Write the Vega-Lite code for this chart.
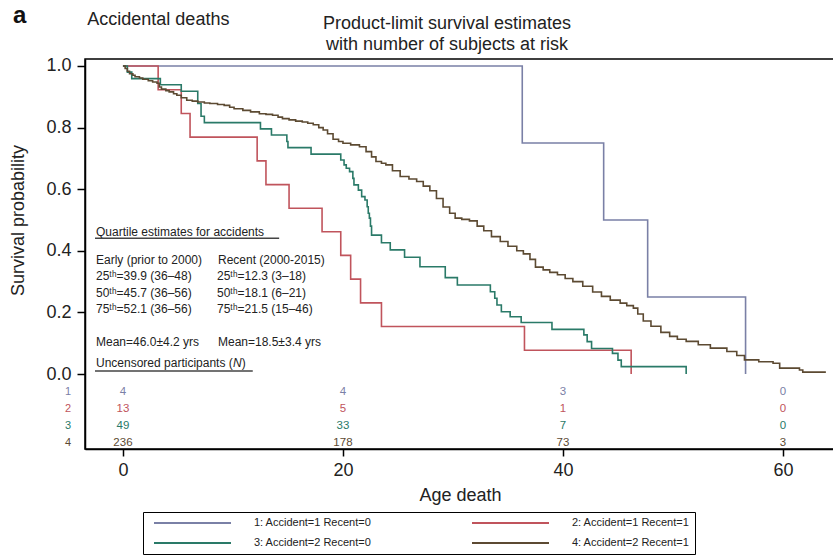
{
  "$schema": "https://vega.github.io/schema/vega-lite/v6.json",
  "width": 750,
  "height": 390,
  "autosize": "none",
  "padding": {"left": 85, "top": 59, "right": 0, "bottom": 106},
  "background": "white",
  "config": {
    "font": "Liberation Sans",
    "view": {"stroke": "#000", "strokeWidth": 1.5},
    "axis": {
      "domainColor": "#000", "domainWidth": 1.5, "tickColor": "#000", "tickWidth": 1.5,
      "labelFont": "Liberation Sans", "labelFontSize": 18, "labelColor": "#222",
      "titleFont": "Liberation Sans", "titleFontSize": 18, "titleFontWeight": "normal", "titleColor": "#222",
      "grid": false
    },
    "text": {"font": "Liberation Sans"}
  },
  "datasets": {
    "curves": [
      {"group": "1: Accident=1 Recent=0", "age": 0, "surv": 1.0},
      {"group": "1: Accident=1 Recent=0", "age": 36.3, "surv": 0.75},
      {"group": "1: Accident=1 Recent=0", "age": 43.7, "surv": 0.5},
      {"group": "1: Accident=1 Recent=0", "age": 47.7, "surv": 0.25},
      {"group": "1: Accident=1 Recent=0", "age": 56.6, "surv": 0.0},
      {"group": "2: Accident=1 Recent=1", "age": 0, "surv": 1.0},
      {"group": "2: Accident=1 Recent=1", "age": 3.2, "surv": 0.923},
      {"group": "2: Accident=1 Recent=1", "age": 5.3, "surv": 0.846},
      {"group": "2: Accident=1 Recent=1", "age": 6.1, "surv": 0.769},
      {"group": "2: Accident=1 Recent=1", "age": 12.2, "surv": 0.692},
      {"group": "2: Accident=1 Recent=1", "age": 13.0, "surv": 0.615},
      {"group": "2: Accident=1 Recent=1", "age": 15.1, "surv": 0.538},
      {"group": "2: Accident=1 Recent=1", "age": 18.1, "surv": 0.462},
      {"group": "2: Accident=1 Recent=1", "age": 19.8, "surv": 0.385},
      {"group": "2: Accident=1 Recent=1", "age": 20.7, "surv": 0.308},
      {"group": "2: Accident=1 Recent=1", "age": 21.6, "surv": 0.231},
      {"group": "2: Accident=1 Recent=1", "age": 23.5, "surv": 0.154},
      {"group": "2: Accident=1 Recent=1", "age": 36.5, "surv": 0.077},
      {"group": "2: Accident=1 Recent=1", "age": 46.2, "surv": 0.0},
      {"group": "3: Accident=2 Recent=0", "age": 0, "surv": 1.0},
      {"group": "3: Accident=2 Recent=0", "age": 0.4, "surv": 0.980},
      {"group": "3: Accident=2 Recent=0", "age": 0.8, "surv": 0.959},
      {"group": "3: Accident=2 Recent=0", "age": 3.4, "surv": 0.939},
      {"group": "3: Accident=2 Recent=0", "age": 5.3, "surv": 0.918},
      {"group": "3: Accident=2 Recent=0", "age": 6.8, "surv": 0.878},
      {"group": "3: Accident=2 Recent=0", "age": 7.1, "surv": 0.837},
      {"group": "3: Accident=2 Recent=0", "age": 7.4, "surv": 0.816},
      {"group": "3: Accident=2 Recent=0", "age": 12.5, "surv": 0.796},
      {"group": "3: Accident=2 Recent=0", "age": 13.5, "surv": 0.776},
      {"group": "3: Accident=2 Recent=0", "age": 14.9, "surv": 0.755},
      {"group": "3: Accident=2 Recent=0", "age": 15.0, "surv": 0.735},
      {"group": "3: Accident=2 Recent=0", "age": 17.1, "surv": 0.714},
      {"group": "3: Accident=2 Recent=0", "age": 19.8, "surv": 0.695},
      {"group": "3: Accident=2 Recent=0", "age": 20.1, "surv": 0.679},
      {"group": "3: Accident=2 Recent=0", "age": 20.3, "surv": 0.668},
      {"group": "3: Accident=2 Recent=0", "age": 20.6, "surv": 0.657},
      {"group": "3: Accident=2 Recent=0", "age": 20.9, "surv": 0.635},
      {"group": "3: Accident=2 Recent=0", "age": 21.0, "surv": 0.614},
      {"group": "3: Accident=2 Recent=0", "age": 21.4, "surv": 0.597},
      {"group": "3: Accident=2 Recent=0", "age": 21.7, "surv": 0.576},
      {"group": "3: Accident=2 Recent=0", "age": 22.0, "surv": 0.565},
      {"group": "3: Accident=2 Recent=0", "age": 22.2, "surv": 0.543},
      {"group": "3: Accident=2 Recent=0", "age": 22.3, "surv": 0.522},
      {"group": "3: Accident=2 Recent=0", "age": 22.4, "surv": 0.506},
      {"group": "3: Accident=2 Recent=0", "age": 22.5, "surv": 0.480},
      {"group": "3: Accident=2 Recent=0", "age": 22.6, "surv": 0.451},
      {"group": "3: Accident=2 Recent=0", "age": 23.5, "surv": 0.426},
      {"group": "3: Accident=2 Recent=0", "age": 24.3, "surv": 0.403},
      {"group": "3: Accident=2 Recent=0", "age": 25.6, "surv": 0.379},
      {"group": "3: Accident=2 Recent=0", "age": 27.0, "surv": 0.348},
      {"group": "3: Accident=2 Recent=0", "age": 29.3, "surv": 0.313},
      {"group": "3: Accident=2 Recent=0", "age": 30.4, "surv": 0.289},
      {"group": "3: Accident=2 Recent=0", "age": 33.4, "surv": 0.267},
      {"group": "3: Accident=2 Recent=0", "age": 33.8, "surv": 0.246},
      {"group": "3: Accident=2 Recent=0", "age": 34.0, "surv": 0.224},
      {"group": "3: Accident=2 Recent=0", "age": 34.4, "surv": 0.202},
      {"group": "3: Accident=2 Recent=0", "age": 35.2, "surv": 0.186},
      {"group": "3: Accident=2 Recent=0", "age": 36.2, "surv": 0.167},
      {"group": "3: Accident=2 Recent=0", "age": 39.0, "surv": 0.145},
      {"group": "3: Accident=2 Recent=0", "age": 41.9, "surv": 0.127},
      {"group": "3: Accident=2 Recent=0", "age": 42.2, "surv": 0.105},
      {"group": "3: Accident=2 Recent=0", "age": 42.6, "surv": 0.083},
      {"group": "3: Accident=2 Recent=0", "age": 44.5, "surv": 0.067},
      {"group": "3: Accident=2 Recent=0", "age": 45.0, "surv": 0.045},
      {"group": "3: Accident=2 Recent=0", "age": 45.3, "surv": 0.024},
      {"group": "3: Accident=2 Recent=0", "age": 51.2, "surv": 0.0},
      {"group": "4: Accident=2 Recent=1", "age": 0, "surv": 1.0},
      {"group": "4: Accident=2 Recent=1", "age": 0.2, "surv": 0.992},
      {"group": "4: Accident=2 Recent=1", "age": 0.4, "surv": 0.983},
      {"group": "4: Accident=2 Recent=1", "age": 0.6, "surv": 0.975},
      {"group": "4: Accident=2 Recent=1", "age": 0.9, "surv": 0.970},
      {"group": "4: Accident=2 Recent=1", "age": 1.1, "surv": 0.965},
      {"group": "4: Accident=2 Recent=1", "age": 1.5, "surv": 0.961},
      {"group": "4: Accident=2 Recent=1", "age": 1.8, "surv": 0.957},
      {"group": "4: Accident=2 Recent=1", "age": 2.3, "surv": 0.952},
      {"group": "4: Accident=2 Recent=1", "age": 2.7, "surv": 0.948},
      {"group": "4: Accident=2 Recent=1", "age": 3.1, "surv": 0.944},
      {"group": "4: Accident=2 Recent=1", "age": 3.3, "surv": 0.932},
      {"group": "4: Accident=2 Recent=1", "age": 3.5, "surv": 0.925},
      {"group": "4: Accident=2 Recent=1", "age": 3.9, "surv": 0.920},
      {"group": "4: Accident=2 Recent=1", "age": 4.2, "surv": 0.916},
      {"group": "4: Accident=2 Recent=1", "age": 4.6, "surv": 0.910},
      {"group": "4: Accident=2 Recent=1", "age": 4.9, "surv": 0.905},
      {"group": "4: Accident=2 Recent=1", "age": 5.3, "surv": 0.897},
      {"group": "4: Accident=2 Recent=1", "age": 5.8, "surv": 0.889},
      {"group": "4: Accident=2 Recent=1", "age": 6.3, "surv": 0.886},
      {"group": "4: Accident=2 Recent=1", "age": 6.8, "surv": 0.883},
      {"group": "4: Accident=2 Recent=1", "age": 7.4, "surv": 0.880},
      {"group": "4: Accident=2 Recent=1", "age": 7.9, "surv": 0.878},
      {"group": "4: Accident=2 Recent=1", "age": 8.6, "surv": 0.875},
      {"group": "4: Accident=2 Recent=1", "age": 9.2, "surv": 0.872},
      {"group": "4: Accident=2 Recent=1", "age": 9.7, "surv": 0.866},
      {"group": "4: Accident=2 Recent=1", "age": 10.1, "surv": 0.861},
      {"group": "4: Accident=2 Recent=1", "age": 10.9, "surv": 0.856},
      {"group": "4: Accident=2 Recent=1", "age": 11.6, "surv": 0.851},
      {"group": "4: Accident=2 Recent=1", "age": 12.4, "surv": 0.845},
      {"group": "4: Accident=2 Recent=1", "age": 13.0, "surv": 0.843},
      {"group": "4: Accident=2 Recent=1", "age": 13.6, "surv": 0.840},
      {"group": "4: Accident=2 Recent=1", "age": 14.1, "surv": 0.834},
      {"group": "4: Accident=2 Recent=1", "age": 14.5, "surv": 0.829},
      {"group": "4: Accident=2 Recent=1", "age": 15.1, "surv": 0.825},
      {"group": "4: Accident=2 Recent=1", "age": 15.7, "surv": 0.821},
      {"group": "4: Accident=2 Recent=1", "age": 16.3, "surv": 0.818},
      {"group": "4: Accident=2 Recent=1", "age": 16.8, "surv": 0.814},
      {"group": "4: Accident=2 Recent=1", "age": 17.3, "surv": 0.809},
      {"group": "4: Accident=2 Recent=1", "age": 17.8, "surv": 0.800},
      {"group": "4: Accident=2 Recent=1", "age": 18.2, "surv": 0.792},
      {"group": "4: Accident=2 Recent=1", "age": 18.6, "surv": 0.780},
      {"group": "4: Accident=2 Recent=1", "age": 19.1, "surv": 0.762},
      {"group": "4: Accident=2 Recent=1", "age": 19.6, "surv": 0.755},
      {"group": "4: Accident=2 Recent=1", "age": 20.0, "surv": 0.749},
      {"group": "4: Accident=2 Recent=1", "age": 20.7, "surv": 0.744},
      {"group": "4: Accident=2 Recent=1", "age": 21.5, "surv": 0.738},
      {"group": "4: Accident=2 Recent=1", "age": 22.1, "surv": 0.722},
      {"group": "4: Accident=2 Recent=1", "age": 22.6, "surv": 0.705},
      {"group": "4: Accident=2 Recent=1", "age": 23.0, "surv": 0.690},
      {"group": "4: Accident=2 Recent=1", "age": 23.5, "surv": 0.684},
      {"group": "4: Accident=2 Recent=1", "age": 23.9, "surv": 0.679},
      {"group": "4: Accident=2 Recent=1", "age": 24.5, "surv": 0.660},
      {"group": "4: Accident=2 Recent=1", "age": 25.2, "surv": 0.641},
      {"group": "4: Accident=2 Recent=1", "age": 26.0, "surv": 0.633},
      {"group": "4: Accident=2 Recent=1", "age": 26.7, "surv": 0.625},
      {"group": "4: Accident=2 Recent=1", "age": 27.3, "surv": 0.610},
      {"group": "4: Accident=2 Recent=1", "age": 27.9, "surv": 0.595},
      {"group": "4: Accident=2 Recent=1", "age": 28.5, "surv": 0.570},
      {"group": "4: Accident=2 Recent=1", "age": 29.1, "surv": 0.542},
      {"group": "4: Accident=2 Recent=1", "age": 29.7, "surv": 0.522},
      {"group": "4: Accident=2 Recent=1", "age": 30.2, "surv": 0.506},
      {"group": "4: Accident=2 Recent=1", "age": 30.8, "surv": 0.502},
      {"group": "4: Accident=2 Recent=1", "age": 31.5, "surv": 0.497},
      {"group": "4: Accident=2 Recent=1", "age": 32.2, "surv": 0.480},
      {"group": "4: Accident=2 Recent=1", "age": 32.8, "surv": 0.465},
      {"group": "4: Accident=2 Recent=1", "age": 33.5, "surv": 0.446},
      {"group": "4: Accident=2 Recent=1", "age": 34.3, "surv": 0.430},
      {"group": "4: Accident=2 Recent=1", "age": 35.0, "surv": 0.415},
      {"group": "4: Accident=2 Recent=1", "age": 35.8, "surv": 0.400},
      {"group": "4: Accident=2 Recent=1", "age": 36.4, "surv": 0.390},
      {"group": "4: Accident=2 Recent=1", "age": 37.0, "surv": 0.372},
      {"group": "4: Accident=2 Recent=1", "age": 37.5, "surv": 0.347},
      {"group": "4: Accident=2 Recent=1", "age": 38.2, "surv": 0.338},
      {"group": "4: Accident=2 Recent=1", "age": 38.8, "surv": 0.330},
      {"group": "4: Accident=2 Recent=1", "age": 39.5, "surv": 0.322},
      {"group": "4: Accident=2 Recent=1", "age": 40.2, "surv": 0.310},
      {"group": "4: Accident=2 Recent=1", "age": 40.9, "surv": 0.300},
      {"group": "4: Accident=2 Recent=1", "age": 41.8, "surv": 0.285},
      {"group": "4: Accident=2 Recent=1", "age": 42.7, "surv": 0.266},
      {"group": "4: Accident=2 Recent=1", "age": 43.5, "surv": 0.252},
      {"group": "4: Accident=2 Recent=1", "age": 44.3, "surv": 0.240},
      {"group": "4: Accident=2 Recent=1", "age": 45.2, "surv": 0.230},
      {"group": "4: Accident=2 Recent=1", "age": 45.8, "surv": 0.222},
      {"group": "4: Accident=2 Recent=1", "age": 46.4, "surv": 0.214},
      {"group": "4: Accident=2 Recent=1", "age": 46.8, "surv": 0.195},
      {"group": "4: Accident=2 Recent=1", "age": 47.3, "surv": 0.172},
      {"group": "4: Accident=2 Recent=1", "age": 48.0, "surv": 0.155},
      {"group": "4: Accident=2 Recent=1", "age": 48.9, "surv": 0.135},
      {"group": "4: Accident=2 Recent=1", "age": 49.7, "surv": 0.122},
      {"group": "4: Accident=2 Recent=1", "age": 50.4, "surv": 0.113},
      {"group": "4: Accident=2 Recent=1", "age": 51.2, "surv": 0.106},
      {"group": "4: Accident=2 Recent=1", "age": 52.3, "surv": 0.095},
      {"group": "4: Accident=2 Recent=1", "age": 53.4, "surv": 0.084},
      {"group": "4: Accident=2 Recent=1", "age": 54.9, "surv": 0.073},
      {"group": "4: Accident=2 Recent=1", "age": 55.8, "surv": 0.060},
      {"group": "4: Accident=2 Recent=1", "age": 56.5, "surv": 0.046},
      {"group": "4: Accident=2 Recent=1", "age": 57.8, "surv": 0.040},
      {"group": "4: Accident=2 Recent=1", "age": 59.1, "surv": 0.035},
      {"group": "4: Accident=2 Recent=1", "age": 59.7, "surv": 0.019},
      {"group": "4: Accident=2 Recent=1", "age": 61.5, "surv": 0.013},
      {"group": "4: Accident=2 Recent=1", "age": 61.8, "surv": 0.006},
      {"group": "4: Accident=2 Recent=1", "age": 63.9, "surv": 0.006}
    ],
    "risk": [
      {"group": "1: Accident=1 Recent=0", "age": 0, "surv": -0.058, "text": "4"},
      {"group": "1: Accident=1 Recent=0", "age": 20, "surv": -0.058, "text": "4"},
      {"group": "1: Accident=1 Recent=0", "age": 40, "surv": -0.058, "text": "3"},
      {"group": "1: Accident=1 Recent=0", "age": 60, "surv": -0.058, "text": "0"},
      {"group": "2: Accident=1 Recent=1", "age": 0, "surv": -0.114, "text": "13"},
      {"group": "2: Accident=1 Recent=1", "age": 20, "surv": -0.114, "text": "5"},
      {"group": "2: Accident=1 Recent=1", "age": 40, "surv": -0.114, "text": "1"},
      {"group": "2: Accident=1 Recent=1", "age": 60, "surv": -0.114, "text": "0"},
      {"group": "3: Accident=2 Recent=0", "age": 0, "surv": -0.169, "text": "49"},
      {"group": "3: Accident=2 Recent=0", "age": 20, "surv": -0.169, "text": "33"},
      {"group": "3: Accident=2 Recent=0", "age": 40, "surv": -0.169, "text": "7"},
      {"group": "3: Accident=2 Recent=0", "age": 60, "surv": -0.169, "text": "0"},
      {"group": "4: Accident=2 Recent=1", "age": 0, "surv": -0.224, "text": "236"},
      {"group": "4: Accident=2 Recent=1", "age": 20, "surv": -0.224, "text": "178"},
      {"group": "4: Accident=2 Recent=1", "age": 40, "surv": -0.224, "text": "73"},
      {"group": "4: Accident=2 Recent=1", "age": 60, "surv": -0.224, "text": "3"}
    ],
    "rowlabels": [
      {"group": "1: Accident=1 Recent=0", "age": -5.0, "surv": -0.058, "text": "1"},
      {"group": "2: Accident=1 Recent=1", "age": -5.0, "surv": -0.114, "text": "2"},
      {"group": "3: Accident=2 Recent=0", "age": -5.0, "surv": -0.169, "text": "3"},
      {"group": "4: Accident=2 Recent=1", "age": -5.0, "surv": -0.224, "text": "4"}
    ],
    "notes": [
      {"age": -2.45, "surv": 0.448, "text": "Quartile estimates for accidents"},
      {"age": -2.45, "surv": 0.357, "text": "Early (prior to 2000)"},
      {"age": 8.64, "surv": 0.357, "text": "Recent (2000-2015)"},
      {"age": -2.45, "surv": 0.305, "text": "25ᵗʰ=39.9 (36–48)"},
      {"age": 8.55, "surv": 0.305, "text": "25ᵗʰ=12.3 (3–18)"},
      {"age": -2.45, "surv": 0.251, "text": "50ᵗʰ=45.7 (36–56)"},
      {"age": 8.55, "surv": 0.251, "text": "50ᵗʰ=18.1 (6–21)"},
      {"age": -2.45, "surv": 0.197, "text": "75ᵗʰ=52.1 (36–56)"},
      {"age": 8.55, "surv": 0.197, "text": "75ᵗʰ=21.5 (15–46)"},
      {"age": -2.45, "surv": 0.092, "text": "Mean=46.0±4.2 yrs"},
      {"age": 8.64, "surv": 0.092, "text": "Mean=18.5±3.4 yrs"},
      {"age": -2.45, "surv": 0.0217, "text": "Uncensored participants ("},
      {"age": 10.8, "surv": 0.0217, "text": ")"}
    ],
    "italic": [
      {"age": 10.0, "surv": 0.0217, "text": "N"}
    ],
    "underlines": [
      {"age": -2.54, "age2": 14.2, "surv": 0.4405},
      {"age": -2.54, "age2": 11.8, "surv": 0.0097}
    ],
    "headings": [
      {"age": -3.24, "surv": 1.133, "text": "Accidental deaths"}
    ],
    "titles": [
      {"age": 29.46, "surv": 1.12, "text": "Product-limit survival estimates"},
      {"age": 29.46, "surv": 1.052, "text": "with number of subjects at risk"}
    ],
    "panel": [
      {"age": -9.39, "surv": 1.139, "text": "a"}
    ]
  },
  "layer": [
    {
      "data": {"name": "curves"},
      "mark": {"type": "line", "interpolate": "step-after", "strokeWidth": 1.6},
      "encoding": {
        "x": {"field": "age", "type": "quantitative",
              "scale": {"domain": [-3.45, 64.73], "nice": false, "zero": false},
              "axis": {"values": [0, 20, 40, 60], "title": "Age death", "tickSize": 7, "labelPadding": 5, "titleY": 51, "titleBaseline": "alphabetic"}},
        "y": {"field": "surv", "type": "quantitative",
              "scale": {"domain": [-0.2435, 1.0227], "nice": false, "zero": false},
              "axis": {"values": [0, 0.2, 0.4, 0.6, 0.8, 1.0], "format": ".1f", "title": "Survival probability", "tickSize": 8, "labelPadding": 6, "titleX": -62, "titleY": 161, "titleBaseline": "alphabetic", "titleAngle": 270, "titleAlign": "center"}},
        "color": {"field": "group", "type": "nominal",
                  "scale": {"domain": ["1: Accident=1 Recent=0", "2: Accident=1 Recent=1", "3: Accident=2 Recent=0", "4: Accident=2 Recent=1"],
                            "range": ["#7a80a6", "#c0545c", "#2a7a68", "#5c4a32"]},
                  "legend": {"orient": "none", "legendX": 58, "legendY": 453, "direction": "horizontal", "columns": 2, "title": null,
                             "symbolType": "stroke", "symbolSize": 5929, "symbolStrokeWidth": 2, "clipHeight": 12,
                             "rowPadding": 8, "columnPadding": 94, "labelOffset": 22, "labelFontSize": 11, "labelFont": "Liberation Sans",
                             "labelColor": "#222", "strokeColor": "#000", "padding": 5, "symbolOffset": 5}}
      }
    },
    {
      "data": {"name": "risk"},
      "mark": {"type": "text", "fontSize": 11.5, "align": "center", "baseline": "middle"},
      "encoding": {
        "x": {"field": "age", "type": "quantitative"},
        "y": {"field": "surv", "type": "quantitative"},
        "text": {"field": "text"},
        "color": {"field": "group", "type": "nominal", "legend": null}
      }
    },
    {
      "data": {"name": "rowlabels"},
      "mark": {"type": "text", "fontSize": 11, "align": "center", "baseline": "middle"},
      "encoding": {
        "x": {"field": "age", "type": "quantitative"},
        "y": {"field": "surv", "type": "quantitative"},
        "text": {"field": "text"},
        "color": {"field": "group", "type": "nominal", "legend": null}
      }
    },
    {
      "data": {"name": "notes"},
      "mark": {"type": "text", "fontSize": 12, "align": "left", "baseline": "alphabetic", "color": "#222"},
      "encoding": {
        "x": {"field": "age", "type": "quantitative"},
        "y": {"field": "surv", "type": "quantitative"},
        "text": {"field": "text"}
      }
    },
    {
      "data": {"name": "italic"},
      "mark": {"type": "text", "fontSize": 12, "fontStyle": "italic", "align": "left", "baseline": "alphabetic", "color": "#222"},
      "encoding": {
        "x": {"field": "age", "type": "quantitative"},
        "y": {"field": "surv", "type": "quantitative"},
        "text": {"field": "text"}
      }
    },
    {
      "data": {"name": "underlines"},
      "mark": {"type": "rule", "color": "#444", "strokeWidth": 1.4},
      "encoding": {
        "x": {"field": "age", "type": "quantitative"},
        "x2": {"field": "age2"},
        "y": {"field": "surv", "type": "quantitative"}
      }
    },
    {
      "data": {"name": "headings"},
      "mark": {"type": "text", "fontSize": 18, "align": "left", "baseline": "alphabetic", "color": "#222"},
      "encoding": {
        "x": {"field": "age", "type": "quantitative"},
        "y": {"field": "surv", "type": "quantitative"},
        "text": {"field": "text"}
      }
    },
    {
      "data": {"name": "titles"},
      "mark": {"type": "text", "fontSize": 18, "align": "center", "baseline": "alphabetic", "color": "#222"},
      "encoding": {
        "x": {"field": "age", "type": "quantitative"},
        "y": {"field": "surv", "type": "quantitative"},
        "text": {"field": "text"}
      }
    },
    {
      "data": {"name": "panel"},
      "mark": {"type": "text", "fontSize": 24, "fontWeight": "bold", "align": "center", "baseline": "alphabetic", "color": "#111"},
      "encoding": {
        "x": {"field": "age", "type": "quantitative"},
        "y": {"field": "surv", "type": "quantitative"},
        "text": {"field": "text"}
      }
    }
  ]
}
